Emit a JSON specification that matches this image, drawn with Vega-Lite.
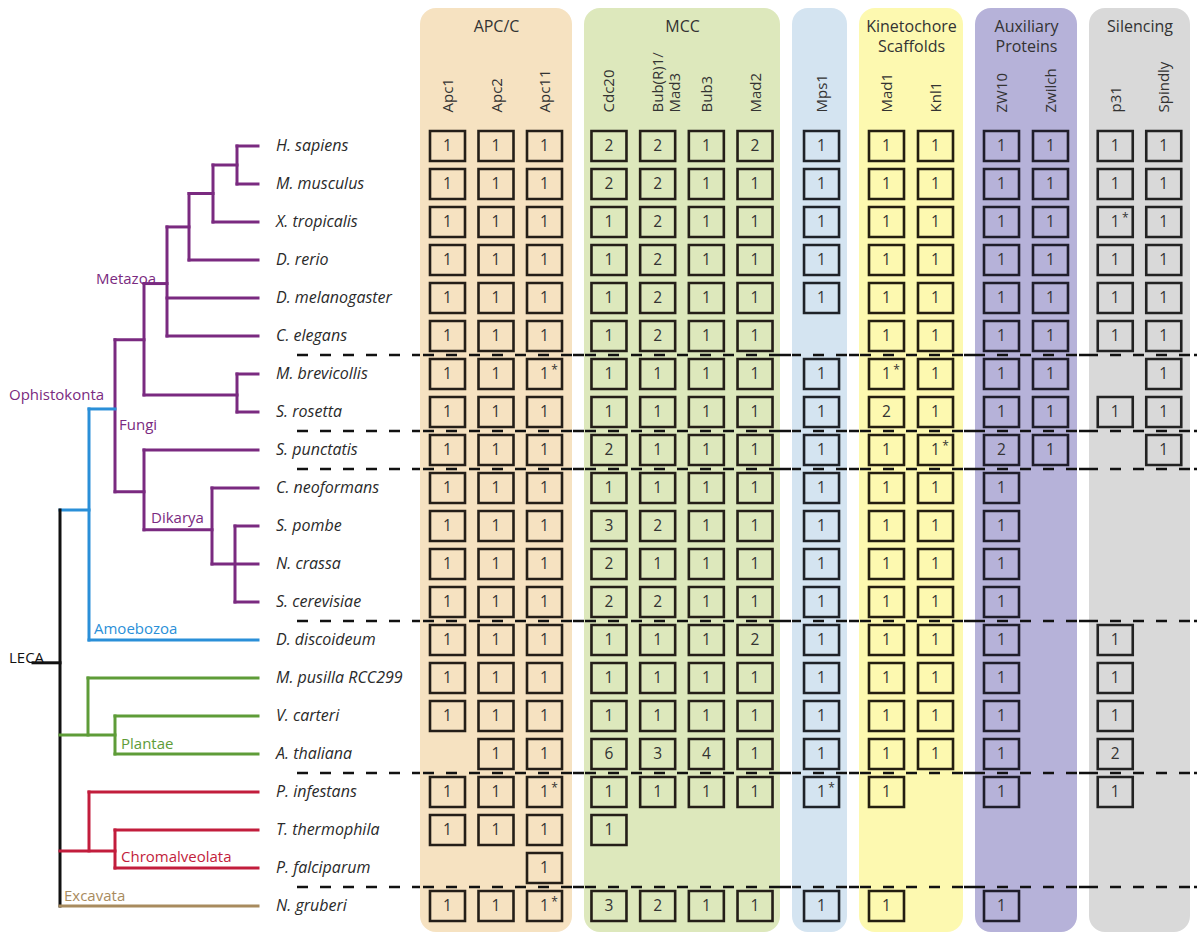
{
  "$schema": "https://vega.github.io/schema/vega-lite/v6.json",
  "padding": {"left": 0, "top": 8, "right": 0, "bottom": 0},
  "background": "white",
  "spacing": 12,
  "bounds": "flush",
  "config": {
    "view": {"stroke": null},
    "font": "Open Sans",
    "axisX": {
      "offset": -104,
      "labelAngle": -90,
      "labelAlign": "left",
      "labelBaseline": "middle",
      "ticks": false,
      "tickSize": 0,
      "domain": false,
      "grid": false,
      "labelPadding": 0,
      "labelFontSize": 15,
      "labelColor": "#333333",
      "labelFont": "Open Sans",
      "labelOverlap": false,
      "labelLineHeight": 17,
      "titleFont": "Open Sans",
      "titleFontSize": 16,
      "titleFontWeight": "normal",
      "titleColor": "#333333",
      "titleBaseline": "top",
      "titleY": -94,
      "titleLineHeight": 20,
      "titleAngle": 0
    }
  },
  "datasets": {
    "species": [
      {"species": "H. sapiens", "row": 0},
      {"species": "M. musculus", "row": 1},
      {"species": "X. tropicalis", "row": 2},
      {"species": "D. rerio", "row": 3},
      {"species": "D. melanogaster", "row": 4},
      {"species": "C. elegans", "row": 5},
      {"species": "M. brevicollis", "row": 6},
      {"species": "S. rosetta", "row": 7},
      {"species": "S. punctatis", "row": 8},
      {"species": "C. neoformans", "row": 9},
      {"species": "S. pombe", "row": 10},
      {"species": "N. crassa", "row": 11},
      {"species": "S. cerevisiae", "row": 12},
      {"species": "D. discoideum", "row": 13},
      {"species": "M. pusilla RCC299", "row": 14},
      {"species": "V. carteri", "row": 15},
      {"species": "A. thaliana", "row": 16},
      {"species": "P. infestans", "row": 17},
      {"species": "T. thermophila", "row": 18},
      {"species": "P. falciparum", "row": 19},
      {"species": "N. gruberi", "row": 20}
    ],
    "seps": [{"row": 5.5}, {"row": 7.5}, {"row": 8.5}, {"row": 12.5}, {"row": 16.5}, {"row": 19.5}],
    "branches": [
      {"clade": "Opisthokonta", "x": 237, "x2": 258, "y": 0, "y2": 0},
      {"clade": "Opisthokonta", "x": 237, "x2": 258, "y": 1, "y2": 1},
      {"clade": "Opisthokonta", "x": 237, "x2": 237, "y": 0, "y2": 1},
      {"clade": "Opisthokonta", "x": 213, "x2": 237, "y": 0.5, "y2": 0.5},
      {"clade": "Opisthokonta", "x": 213, "x2": 258, "y": 2, "y2": 2},
      {"clade": "Opisthokonta", "x": 213, "x2": 213, "y": 0.5, "y2": 2},
      {"clade": "Opisthokonta", "x": 189, "x2": 213, "y": 1.25, "y2": 1.25},
      {"clade": "Opisthokonta", "x": 189, "x2": 258, "y": 3, "y2": 3},
      {"clade": "Opisthokonta", "x": 189, "x2": 189, "y": 1.25, "y2": 3},
      {"clade": "Opisthokonta", "x": 167, "x2": 189, "y": 2.13, "y2": 2.13},
      {"clade": "Opisthokonta", "x": 167, "x2": 258, "y": 4, "y2": 4},
      {"clade": "Opisthokonta", "x": 167, "x2": 258, "y": 5, "y2": 5},
      {"clade": "Opisthokonta", "x": 167, "x2": 167, "y": 2.13, "y2": 5},
      {"clade": "Opisthokonta", "x": 144, "x2": 167, "y": 3.62, "y2": 3.62},
      {"clade": "Opisthokonta", "x": 237, "x2": 258, "y": 6, "y2": 6},
      {"clade": "Opisthokonta", "x": 237, "x2": 258, "y": 7, "y2": 7},
      {"clade": "Opisthokonta", "x": 237, "x2": 237, "y": 6, "y2": 7},
      {"clade": "Opisthokonta", "x": 144, "x2": 237, "y": 6.55, "y2": 6.55},
      {"clade": "Opisthokonta", "x": 144, "x2": 144, "y": 3.62, "y2": 6.55},
      {"clade": "Opisthokonta", "x": 115, "x2": 144, "y": 5.1, "y2": 5.1},
      {"clade": "Opisthokonta", "x": 144, "x2": 258, "y": 8, "y2": 8},
      {"clade": "Opisthokonta", "x": 212, "x2": 258, "y": 9, "y2": 9},
      {"clade": "Opisthokonta", "x": 235, "x2": 258, "y": 10, "y2": 10},
      {"clade": "Opisthokonta", "x": 212, "x2": 258, "y": 11, "y2": 11},
      {"clade": "Opisthokonta", "x": 235, "x2": 258, "y": 12, "y2": 12},
      {"clade": "Opisthokonta", "x": 235, "x2": 235, "y": 10, "y2": 12},
      {"clade": "Opisthokonta", "x": 212, "x2": 212, "y": 9, "y2": 11},
      {"clade": "Opisthokonta", "x": 144, "x2": 212, "y": 10.1, "y2": 10.1},
      {"clade": "Opisthokonta", "x": 144, "x2": 144, "y": 8, "y2": 10.1},
      {"clade": "Opisthokonta", "x": 115, "x2": 144, "y": 9.1, "y2": 9.1},
      {"clade": "Opisthokonta", "x": 115, "x2": 115, "y": 5.1, "y2": 9.1},
      {"clade": "Amoebozoa", "x": 89, "x2": 115, "y": 6.92, "y2": 6.92},
      {"clade": "Amoebozoa", "x": 89, "x2": 89, "y": 6.92, "y2": 13},
      {"clade": "Amoebozoa", "x": 89, "x2": 258, "y": 13, "y2": 13},
      {"clade": "Amoebozoa", "x": 60, "x2": 89, "y": 9.58, "y2": 9.58},
      {"clade": "LECA", "x": 60, "x2": 60, "y": 9.58, "y2": 20},
      {"clade": "LECA", "x": 33, "x2": 60, "y": 13.6, "y2": 13.6},
      {"clade": "Plantae", "x": 60, "x2": 115, "y": 15.5, "y2": 15.5},
      {"clade": "Plantae", "x": 88, "x2": 88, "y": 14, "y2": 15.5},
      {"clade": "Plantae", "x": 88, "x2": 258, "y": 14, "y2": 14},
      {"clade": "Plantae", "x": 115, "x2": 115, "y": 15, "y2": 16},
      {"clade": "Plantae", "x": 115, "x2": 258, "y": 15, "y2": 15},
      {"clade": "Plantae", "x": 115, "x2": 258, "y": 16, "y2": 16},
      {"clade": "Chromalveolata", "x": 60, "x2": 115, "y": 18.55, "y2": 18.55},
      {"clade": "Chromalveolata", "x": 89, "x2": 89, "y": 17, "y2": 18.55},
      {"clade": "Chromalveolata", "x": 89, "x2": 258, "y": 17, "y2": 17},
      {"clade": "Chromalveolata", "x": 115, "x2": 115, "y": 18, "y2": 19},
      {"clade": "Chromalveolata", "x": 115, "x2": 258, "y": 18, "y2": 18},
      {"clade": "Chromalveolata", "x": 115, "x2": 258, "y": 19, "y2": 19},
      {"clade": "Excavata", "x": 60, "x2": 258, "y": 20, "y2": 20}
    ],
    "cladeLabels": [
      {"label": "Metazoa", "clade": "Opisthokonta", "x": 96, "row": 3.5},
      {"label": "Ophistokonta", "clade": "Opisthokonta", "x": 9, "row": 6.55},
      {"label": "Fungi", "clade": "Opisthokonta", "x": 119, "row": 7.34},
      {"label": "Dikarya", "clade": "Opisthokonta", "x": 151, "row": 9.79},
      {"label": "Amoebozoa", "clade": "Amoebozoa", "x": 94, "row": 12.71},
      {"label": "LECA", "clade": "LECA", "x": 9, "row": 13.48},
      {"label": "Plantae", "clade": "Plantae", "x": 121, "row": 15.74},
      {"label": "Chromalveolata", "clade": "Chromalveolata", "x": 121, "row": 18.71},
      {"label": "Excavata", "clade": "Excavata", "x": 64, "row": 19.74}
    ],
    "cells": [
      {"species": "H. sapiens", "gene": "Apc1", "count": 1},
      {"species": "H. sapiens", "gene": "Apc2", "count": 1},
      {"species": "H. sapiens", "gene": "Apc11", "count": 1},
      {"species": "H. sapiens", "gene": "Cdc20", "count": 2},
      {"species": "H. sapiens", "gene": "Bub(R)1/Mad3", "count": 2},
      {"species": "H. sapiens", "gene": "Bub3", "count": 1},
      {"species": "H. sapiens", "gene": "Mad2", "count": 2},
      {"species": "H. sapiens", "gene": "Mps1", "count": 1},
      {"species": "H. sapiens", "gene": "Mad1", "count": 1},
      {"species": "H. sapiens", "gene": "Knl1", "count": 1},
      {"species": "H. sapiens", "gene": "ZW10", "count": 1},
      {"species": "H. sapiens", "gene": "Zwilch", "count": 1},
      {"species": "H. sapiens", "gene": "p31", "count": 1},
      {"species": "H. sapiens", "gene": "Spindly", "count": 1},
      {"species": "M. musculus", "gene": "Apc1", "count": 1},
      {"species": "M. musculus", "gene": "Apc2", "count": 1},
      {"species": "M. musculus", "gene": "Apc11", "count": 1},
      {"species": "M. musculus", "gene": "Cdc20", "count": 2},
      {"species": "M. musculus", "gene": "Bub(R)1/Mad3", "count": 2},
      {"species": "M. musculus", "gene": "Bub3", "count": 1},
      {"species": "M. musculus", "gene": "Mad2", "count": 1},
      {"species": "M. musculus", "gene": "Mps1", "count": 1},
      {"species": "M. musculus", "gene": "Mad1", "count": 1},
      {"species": "M. musculus", "gene": "Knl1", "count": 1},
      {"species": "M. musculus", "gene": "ZW10", "count": 1},
      {"species": "M. musculus", "gene": "Zwilch", "count": 1},
      {"species": "M. musculus", "gene": "p31", "count": 1},
      {"species": "M. musculus", "gene": "Spindly", "count": 1},
      {"species": "X. tropicalis", "gene": "Apc1", "count": 1},
      {"species": "X. tropicalis", "gene": "Apc2", "count": 1},
      {"species": "X. tropicalis", "gene": "Apc11", "count": 1},
      {"species": "X. tropicalis", "gene": "Cdc20", "count": 1},
      {"species": "X. tropicalis", "gene": "Bub(R)1/Mad3", "count": 2},
      {"species": "X. tropicalis", "gene": "Bub3", "count": 1},
      {"species": "X. tropicalis", "gene": "Mad2", "count": 1},
      {"species": "X. tropicalis", "gene": "Mps1", "count": 1},
      {"species": "X. tropicalis", "gene": "Mad1", "count": 1},
      {"species": "X. tropicalis", "gene": "Knl1", "count": 1},
      {"species": "X. tropicalis", "gene": "ZW10", "count": 1},
      {"species": "X. tropicalis", "gene": "Zwilch", "count": 1},
      {"species": "X. tropicalis", "gene": "p31", "count": 1, "star": "*"},
      {"species": "X. tropicalis", "gene": "Spindly", "count": 1},
      {"species": "D. rerio", "gene": "Apc1", "count": 1},
      {"species": "D. rerio", "gene": "Apc2", "count": 1},
      {"species": "D. rerio", "gene": "Apc11", "count": 1},
      {"species": "D. rerio", "gene": "Cdc20", "count": 1},
      {"species": "D. rerio", "gene": "Bub(R)1/Mad3", "count": 2},
      {"species": "D. rerio", "gene": "Bub3", "count": 1},
      {"species": "D. rerio", "gene": "Mad2", "count": 1},
      {"species": "D. rerio", "gene": "Mps1", "count": 1},
      {"species": "D. rerio", "gene": "Mad1", "count": 1},
      {"species": "D. rerio", "gene": "Knl1", "count": 1},
      {"species": "D. rerio", "gene": "ZW10", "count": 1},
      {"species": "D. rerio", "gene": "Zwilch", "count": 1},
      {"species": "D. rerio", "gene": "p31", "count": 1},
      {"species": "D. rerio", "gene": "Spindly", "count": 1},
      {"species": "D. melanogaster", "gene": "Apc1", "count": 1},
      {"species": "D. melanogaster", "gene": "Apc2", "count": 1},
      {"species": "D. melanogaster", "gene": "Apc11", "count": 1},
      {"species": "D. melanogaster", "gene": "Cdc20", "count": 1},
      {"species": "D. melanogaster", "gene": "Bub(R)1/Mad3", "count": 2},
      {"species": "D. melanogaster", "gene": "Bub3", "count": 1},
      {"species": "D. melanogaster", "gene": "Mad2", "count": 1},
      {"species": "D. melanogaster", "gene": "Mps1", "count": 1},
      {"species": "D. melanogaster", "gene": "Mad1", "count": 1},
      {"species": "D. melanogaster", "gene": "Knl1", "count": 1},
      {"species": "D. melanogaster", "gene": "ZW10", "count": 1},
      {"species": "D. melanogaster", "gene": "Zwilch", "count": 1},
      {"species": "D. melanogaster", "gene": "p31", "count": 1},
      {"species": "D. melanogaster", "gene": "Spindly", "count": 1},
      {"species": "C. elegans", "gene": "Apc1", "count": 1},
      {"species": "C. elegans", "gene": "Apc2", "count": 1},
      {"species": "C. elegans", "gene": "Apc11", "count": 1},
      {"species": "C. elegans", "gene": "Cdc20", "count": 1},
      {"species": "C. elegans", "gene": "Bub(R)1/Mad3", "count": 2},
      {"species": "C. elegans", "gene": "Bub3", "count": 1},
      {"species": "C. elegans", "gene": "Mad2", "count": 1},
      {"species": "C. elegans", "gene": "Mad1", "count": 1},
      {"species": "C. elegans", "gene": "Knl1", "count": 1},
      {"species": "C. elegans", "gene": "ZW10", "count": 1},
      {"species": "C. elegans", "gene": "Zwilch", "count": 1},
      {"species": "C. elegans", "gene": "p31", "count": 1},
      {"species": "C. elegans", "gene": "Spindly", "count": 1},
      {"species": "M. brevicollis", "gene": "Apc1", "count": 1},
      {"species": "M. brevicollis", "gene": "Apc2", "count": 1},
      {"species": "M. brevicollis", "gene": "Apc11", "count": 1, "star": "*"},
      {"species": "M. brevicollis", "gene": "Cdc20", "count": 1},
      {"species": "M. brevicollis", "gene": "Bub(R)1/Mad3", "count": 1},
      {"species": "M. brevicollis", "gene": "Bub3", "count": 1},
      {"species": "M. brevicollis", "gene": "Mad2", "count": 1},
      {"species": "M. brevicollis", "gene": "Mps1", "count": 1},
      {"species": "M. brevicollis", "gene": "Mad1", "count": 1, "star": "*"},
      {"species": "M. brevicollis", "gene": "Knl1", "count": 1},
      {"species": "M. brevicollis", "gene": "ZW10", "count": 1},
      {"species": "M. brevicollis", "gene": "Zwilch", "count": 1},
      {"species": "M. brevicollis", "gene": "Spindly", "count": 1},
      {"species": "S. rosetta", "gene": "Apc1", "count": 1},
      {"species": "S. rosetta", "gene": "Apc2", "count": 1},
      {"species": "S. rosetta", "gene": "Apc11", "count": 1},
      {"species": "S. rosetta", "gene": "Cdc20", "count": 1},
      {"species": "S. rosetta", "gene": "Bub(R)1/Mad3", "count": 1},
      {"species": "S. rosetta", "gene": "Bub3", "count": 1},
      {"species": "S. rosetta", "gene": "Mad2", "count": 1},
      {"species": "S. rosetta", "gene": "Mps1", "count": 1},
      {"species": "S. rosetta", "gene": "Mad1", "count": 2},
      {"species": "S. rosetta", "gene": "Knl1", "count": 1},
      {"species": "S. rosetta", "gene": "ZW10", "count": 1},
      {"species": "S. rosetta", "gene": "Zwilch", "count": 1},
      {"species": "S. rosetta", "gene": "p31", "count": 1},
      {"species": "S. rosetta", "gene": "Spindly", "count": 1},
      {"species": "S. punctatis", "gene": "Apc1", "count": 1},
      {"species": "S. punctatis", "gene": "Apc2", "count": 1},
      {"species": "S. punctatis", "gene": "Apc11", "count": 1},
      {"species": "S. punctatis", "gene": "Cdc20", "count": 2},
      {"species": "S. punctatis", "gene": "Bub(R)1/Mad3", "count": 1},
      {"species": "S. punctatis", "gene": "Bub3", "count": 1},
      {"species": "S. punctatis", "gene": "Mad2", "count": 1},
      {"species": "S. punctatis", "gene": "Mps1", "count": 1},
      {"species": "S. punctatis", "gene": "Mad1", "count": 1},
      {"species": "S. punctatis", "gene": "Knl1", "count": 1, "star": "*"},
      {"species": "S. punctatis", "gene": "ZW10", "count": 2},
      {"species": "S. punctatis", "gene": "Zwilch", "count": 1},
      {"species": "S. punctatis", "gene": "Spindly", "count": 1},
      {"species": "C. neoformans", "gene": "Apc1", "count": 1},
      {"species": "C. neoformans", "gene": "Apc2", "count": 1},
      {"species": "C. neoformans", "gene": "Apc11", "count": 1},
      {"species": "C. neoformans", "gene": "Cdc20", "count": 1},
      {"species": "C. neoformans", "gene": "Bub(R)1/Mad3", "count": 1},
      {"species": "C. neoformans", "gene": "Bub3", "count": 1},
      {"species": "C. neoformans", "gene": "Mad2", "count": 1},
      {"species": "C. neoformans", "gene": "Mps1", "count": 1},
      {"species": "C. neoformans", "gene": "Mad1", "count": 1},
      {"species": "C. neoformans", "gene": "Knl1", "count": 1},
      {"species": "C. neoformans", "gene": "ZW10", "count": 1},
      {"species": "S. pombe", "gene": "Apc1", "count": 1},
      {"species": "S. pombe", "gene": "Apc2", "count": 1},
      {"species": "S. pombe", "gene": "Apc11", "count": 1},
      {"species": "S. pombe", "gene": "Cdc20", "count": 3},
      {"species": "S. pombe", "gene": "Bub(R)1/Mad3", "count": 2},
      {"species": "S. pombe", "gene": "Bub3", "count": 1},
      {"species": "S. pombe", "gene": "Mad2", "count": 1},
      {"species": "S. pombe", "gene": "Mps1", "count": 1},
      {"species": "S. pombe", "gene": "Mad1", "count": 1},
      {"species": "S. pombe", "gene": "Knl1", "count": 1},
      {"species": "S. pombe", "gene": "ZW10", "count": 1},
      {"species": "N. crassa", "gene": "Apc1", "count": 1},
      {"species": "N. crassa", "gene": "Apc2", "count": 1},
      {"species": "N. crassa", "gene": "Apc11", "count": 1},
      {"species": "N. crassa", "gene": "Cdc20", "count": 2},
      {"species": "N. crassa", "gene": "Bub(R)1/Mad3", "count": 1},
      {"species": "N. crassa", "gene": "Bub3", "count": 1},
      {"species": "N. crassa", "gene": "Mad2", "count": 1},
      {"species": "N. crassa", "gene": "Mps1", "count": 1},
      {"species": "N. crassa", "gene": "Mad1", "count": 1},
      {"species": "N. crassa", "gene": "Knl1", "count": 1},
      {"species": "N. crassa", "gene": "ZW10", "count": 1},
      {"species": "S. cerevisiae", "gene": "Apc1", "count": 1},
      {"species": "S. cerevisiae", "gene": "Apc2", "count": 1},
      {"species": "S. cerevisiae", "gene": "Apc11", "count": 1},
      {"species": "S. cerevisiae", "gene": "Cdc20", "count": 2},
      {"species": "S. cerevisiae", "gene": "Bub(R)1/Mad3", "count": 2},
      {"species": "S. cerevisiae", "gene": "Bub3", "count": 1},
      {"species": "S. cerevisiae", "gene": "Mad2", "count": 1},
      {"species": "S. cerevisiae", "gene": "Mps1", "count": 1},
      {"species": "S. cerevisiae", "gene": "Mad1", "count": 1},
      {"species": "S. cerevisiae", "gene": "Knl1", "count": 1},
      {"species": "S. cerevisiae", "gene": "ZW10", "count": 1},
      {"species": "D. discoideum", "gene": "Apc1", "count": 1},
      {"species": "D. discoideum", "gene": "Apc2", "count": 1},
      {"species": "D. discoideum", "gene": "Apc11", "count": 1},
      {"species": "D. discoideum", "gene": "Cdc20", "count": 1},
      {"species": "D. discoideum", "gene": "Bub(R)1/Mad3", "count": 1},
      {"species": "D. discoideum", "gene": "Bub3", "count": 1},
      {"species": "D. discoideum", "gene": "Mad2", "count": 2},
      {"species": "D. discoideum", "gene": "Mps1", "count": 1},
      {"species": "D. discoideum", "gene": "Mad1", "count": 1},
      {"species": "D. discoideum", "gene": "Knl1", "count": 1},
      {"species": "D. discoideum", "gene": "ZW10", "count": 1},
      {"species": "D. discoideum", "gene": "p31", "count": 1},
      {"species": "M. pusilla RCC299", "gene": "Apc1", "count": 1},
      {"species": "M. pusilla RCC299", "gene": "Apc2", "count": 1},
      {"species": "M. pusilla RCC299", "gene": "Apc11", "count": 1},
      {"species": "M. pusilla RCC299", "gene": "Cdc20", "count": 1},
      {"species": "M. pusilla RCC299", "gene": "Bub(R)1/Mad3", "count": 1},
      {"species": "M. pusilla RCC299", "gene": "Bub3", "count": 1},
      {"species": "M. pusilla RCC299", "gene": "Mad2", "count": 1},
      {"species": "M. pusilla RCC299", "gene": "Mps1", "count": 1},
      {"species": "M. pusilla RCC299", "gene": "Mad1", "count": 1},
      {"species": "M. pusilla RCC299", "gene": "Knl1", "count": 1},
      {"species": "M. pusilla RCC299", "gene": "ZW10", "count": 1},
      {"species": "M. pusilla RCC299", "gene": "p31", "count": 1},
      {"species": "V. carteri", "gene": "Apc1", "count": 1},
      {"species": "V. carteri", "gene": "Apc2", "count": 1},
      {"species": "V. carteri", "gene": "Apc11", "count": 1},
      {"species": "V. carteri", "gene": "Cdc20", "count": 1},
      {"species": "V. carteri", "gene": "Bub(R)1/Mad3", "count": 1},
      {"species": "V. carteri", "gene": "Bub3", "count": 1},
      {"species": "V. carteri", "gene": "Mad2", "count": 1},
      {"species": "V. carteri", "gene": "Mps1", "count": 1},
      {"species": "V. carteri", "gene": "Mad1", "count": 1},
      {"species": "V. carteri", "gene": "Knl1", "count": 1},
      {"species": "V. carteri", "gene": "ZW10", "count": 1},
      {"species": "V. carteri", "gene": "p31", "count": 1},
      {"species": "A. thaliana", "gene": "Apc2", "count": 1},
      {"species": "A. thaliana", "gene": "Apc11", "count": 1},
      {"species": "A. thaliana", "gene": "Cdc20", "count": 6},
      {"species": "A. thaliana", "gene": "Bub(R)1/Mad3", "count": 3},
      {"species": "A. thaliana", "gene": "Bub3", "count": 4},
      {"species": "A. thaliana", "gene": "Mad2", "count": 1},
      {"species": "A. thaliana", "gene": "Mps1", "count": 1},
      {"species": "A. thaliana", "gene": "Mad1", "count": 1},
      {"species": "A. thaliana", "gene": "Knl1", "count": 1},
      {"species": "A. thaliana", "gene": "ZW10", "count": 1},
      {"species": "A. thaliana", "gene": "p31", "count": 2},
      {"species": "P. infestans", "gene": "Apc1", "count": 1},
      {"species": "P. infestans", "gene": "Apc2", "count": 1},
      {"species": "P. infestans", "gene": "Apc11", "count": 1, "star": "*"},
      {"species": "P. infestans", "gene": "Cdc20", "count": 1},
      {"species": "P. infestans", "gene": "Bub(R)1/Mad3", "count": 1},
      {"species": "P. infestans", "gene": "Bub3", "count": 1},
      {"species": "P. infestans", "gene": "Mad2", "count": 1},
      {"species": "P. infestans", "gene": "Mps1", "count": 1, "star": "*"},
      {"species": "P. infestans", "gene": "Mad1", "count": 1},
      {"species": "P. infestans", "gene": "ZW10", "count": 1},
      {"species": "P. infestans", "gene": "p31", "count": 1},
      {"species": "T. thermophila", "gene": "Apc1", "count": 1},
      {"species": "T. thermophila", "gene": "Apc2", "count": 1},
      {"species": "T. thermophila", "gene": "Apc11", "count": 1},
      {"species": "T. thermophila", "gene": "Cdc20", "count": 1},
      {"species": "P. falciparum", "gene": "Apc11", "count": 1},
      {"species": "N. gruberi", "gene": "Apc1", "count": 1},
      {"species": "N. gruberi", "gene": "Apc2", "count": 1},
      {"species": "N. gruberi", "gene": "Apc11", "count": 1, "star": "*"},
      {"species": "N. gruberi", "gene": "Cdc20", "count": 3},
      {"species": "N. gruberi", "gene": "Bub(R)1/Mad3", "count": 2},
      {"species": "N. gruberi", "gene": "Bub3", "count": 1},
      {"species": "N. gruberi", "gene": "Mad2", "count": 1},
      {"species": "N. gruberi", "gene": "Mps1", "count": 1},
      {"species": "N. gruberi", "gene": "Mad1", "count": 1},
      {"species": "N. gruberi", "gene": "ZW10", "count": 1}
    ]
  },
  "hconcat": [
    {
      "width": 408,
      "height": 924,
      "layer": [
        {
          "data": {"name": "seps"},
          "mark": {"type": "rule", "strokeDash": [11, 12], "strokeWidth": 2.6, "color": "#111111"},
          "encoding": {
            "x": {"datum": 297, "type": "quantitative", "scale": {"domain": [0, 408], "nice": false, "zero": false}, "axis": null},
            "x2": {"datum": 1197},
            "y": {"field": "row", "type": "quantitative", "scale": {"domain": [-3.6316, 20.6842], "reverse": true, "nice": false, "zero": false}, "axis": null}
          }
        },
        {
          "data": {"name": "branches"},
          "mark": {"type": "rule", "strokeWidth": 3, "strokeCap": "square"},
          "encoding": {
            "x": {"field": "x", "type": "quantitative", "scale": {"domain": [0, 408], "nice": false, "zero": false}, "axis": null},
            "x2": {"field": "x2"},
            "y": {"field": "y", "type": "quantitative", "scale": {"domain": [-3.6316, 20.6842], "reverse": true, "nice": false, "zero": false}, "axis": null},
            "y2": {"field": "y2"},
            "color": {"field": "clade", "type": "nominal", "legend": null,
              "scale": {"domain": ["Opisthokonta", "Amoebozoa", "LECA", "Plantae", "Chromalveolata", "Excavata"],
                        "range": ["#7a2a80", "#2a8fd8", "#111111", "#5e9c38", "#c21d3c", "#a88b5e"]}}
          }
        },
        {
          "data": {"name": "cladeLabels"},
          "mark": {"type": "text", "align": "left", "baseline": "middle", "fontSize": 15, "font": "Open Sans"},
          "encoding": {
            "x": {"field": "x", "type": "quantitative"},
            "y": {"field": "row", "type": "quantitative"},
            "text": {"field": "label"},
            "color": {"field": "clade", "type": "nominal", "legend": null}
          }
        },
        {
          "data": {"name": "species"},
          "mark": {"type": "text", "align": "left", "baseline": "middle", "fontSize": 16, "fontStyle": "italic", "font": "Open Sans", "color": "#2a2a2a"},
          "encoding": {
            "x": {"datum": 276, "type": "quantitative"},
            "y": {"field": "row", "type": "quantitative"},
            "text": {"field": "species"}
          }
        }
      ]
    },
    {
      "width": 152,
      "height": 924,
      "view": {"fill": "#f6e2c1", "stroke": null, "cornerRadius": 16},
      "layer": [
        {
          "data": {"name": "seps"},
          "mark": {"type": "rule", "strokeDash": [11, 12], "strokeWidth": 2.6, "color": "#111111"},
          "encoding": {"y": {"field": "row", "type": "quantitative", "scale": {"domain": [-3.6316, 20.6842], "reverse": true, "nice": false, "zero": false}, "axis": null}}
        },
        {
          "data": {"name": "cells"},
          "transform": [
            {"filter": {"field": "gene", "oneOf": ["Apc1", "Apc2", "Apc11"]}},
            {"lookup": "species", "from": {"data": {"name": "species"}, "key": "species", "fields": ["row"]}}
          ],
          "encoding": {
            "x": {"field": "gene", "type": "nominal", "scale": {"type": "point", "domain": ["Apc1", "Apc2", "Apc11"], "padding": 0.567}, "axis": {"orient": "top", "title": "APC/C"}},
            "y": {"field": "row", "type": "quantitative"}
          },
          "layer": [
            {"mark": {"type": "point", "shape": "M-1,-0.857H1V0.857H-1Z", "size": 1225, "filled": false, "stroke": "#241e18", "strokeWidth": 2.6, "opacity": 1}},
            {"mark": {"type": "text", "fontSize": 15.5, "color": "#333333", "baseline": "middle", "font": "Open Sans"}, "encoding": {"text": {"field": "count"}}},
            {"transform": [{"filter": "isValid(datum.star)"}], "mark": {"type": "text", "fontSize": 12, "color": "#333333", "baseline": "middle", "dx": 10, "dy": -4, "font": "Open Sans"}, "encoding": {"text": {"field": "star"}}}
          ]
        }
      ]
    },
    {
      "width": 196,
      "height": 924,
      "view": {"fill": "#dde8bc", "stroke": null, "cornerRadius": 16},
      "layer": [
        {
          "data": {"name": "seps"},
          "mark": {"type": "rule", "strokeDash": [11, 12], "strokeWidth": 2.6, "color": "#111111"},
          "encoding": {"y": {"field": "row", "type": "quantitative", "scale": {"domain": [-3.6316, 20.6842], "reverse": true, "nice": false, "zero": false}, "axis": null}}
        },
        {
          "data": {"name": "cells"},
          "transform": [
            {"filter": {"field": "gene", "oneOf": ["Cdc20", "Bub(R)1/Mad3", "Bub3", "Mad2"]}},
            {"lookup": "species", "from": {"data": {"name": "species"}, "key": "species", "fields": ["row"]}}
          ],
          "encoding": {
            "x": {"field": "gene", "type": "nominal", "scale": {"type": "point", "domain": ["Cdc20", "Bub(R)1/Mad3", "Bub3", "Mad2"], "padding": 0.513},
                  "axis": {"orient": "top", "title": "MCC", "labelExpr": "datum.label == 'Bub(R)1/Mad3' ? ['Bub(R)1/', 'Mad3'] : datum.label"}},
            "y": {"field": "row", "type": "quantitative"}
          },
          "layer": [
            {"mark": {"type": "point", "shape": "M-1,-0.857H1V0.857H-1Z", "size": 1225, "filled": false, "stroke": "#241e18", "strokeWidth": 2.6, "opacity": 1}},
            {"mark": {"type": "text", "fontSize": 15.5, "color": "#333333", "baseline": "middle", "font": "Open Sans"}, "encoding": {"text": {"field": "count"}}},
            {"transform": [{"filter": "isValid(datum.star)"}], "mark": {"type": "text", "fontSize": 12, "color": "#333333", "baseline": "middle", "dx": 10, "dy": -4, "font": "Open Sans"}, "encoding": {"text": {"field": "star"}}}
          ]
        }
      ]
    },
    {
      "width": 55,
      "height": 924,
      "view": {"fill": "#d4e4f1", "stroke": null, "cornerRadius": 16},
      "layer": [
        {
          "data": {"name": "seps"},
          "mark": {"type": "rule", "strokeDash": [11, 12], "strokeWidth": 2.6, "color": "#111111"},
          "encoding": {"y": {"field": "row", "type": "quantitative", "scale": {"domain": [-3.6316, 20.6842], "reverse": true, "nice": false, "zero": false}, "axis": null}}
        },
        {
          "data": {"name": "cells"},
          "transform": [
            {"filter": {"field": "gene", "oneOf": ["Mps1"]}},
            {"lookup": "species", "from": {"data": {"name": "species"}, "key": "species", "fields": ["row"]}}
          ],
          "encoding": {
            "x": {"field": "gene", "type": "nominal", "scale": {"type": "point", "domain": ["Mps1"], "padding": 0.5, "align": 0.537}, "axis": {"orient": "top", "title": " "}},
            "y": {"field": "row", "type": "quantitative"}
          },
          "layer": [
            {"mark": {"type": "point", "shape": "M-1,-0.857H1V0.857H-1Z", "size": 1225, "filled": false, "stroke": "#1e2228", "strokeWidth": 2.6, "opacity": 1}},
            {"mark": {"type": "text", "fontSize": 15.5, "color": "#333333", "baseline": "middle", "font": "Open Sans"}, "encoding": {"text": {"field": "count"}}},
            {"transform": [{"filter": "isValid(datum.star)"}], "mark": {"type": "text", "fontSize": 12, "color": "#333333", "baseline": "middle", "dx": 10, "dy": -4, "font": "Open Sans"}, "encoding": {"text": {"field": "star"}}}
          ]
        }
      ]
    },
    {
      "width": 104,
      "height": 924,
      "view": {"fill": "#fdf9b0", "stroke": null, "cornerRadius": 16},
      "layer": [
        {
          "data": {"name": "seps"},
          "mark": {"type": "rule", "strokeDash": [11, 12], "strokeWidth": 2.6, "color": "#111111"},
          "encoding": {"y": {"field": "row", "type": "quantitative", "scale": {"domain": [-3.6316, 20.6842], "reverse": true, "nice": false, "zero": false}, "axis": null}}
        },
        {
          "data": {"name": "cells"},
          "transform": [
            {"filter": {"field": "gene", "oneOf": ["Mad1", "Knl1"]}},
            {"lookup": "species", "from": {"data": {"name": "species"}, "key": "species", "fields": ["row"]}}
          ],
          "encoding": {
            "x": {"field": "gene", "type": "nominal", "scale": {"type": "point", "domain": ["Mad1", "Knl1"], "padding": 0.561}, "axis": {"orient": "top", "title": ["Kinetochore", "Scaffolds"]}},
            "y": {"field": "row", "type": "quantitative"}
          },
          "layer": [
            {"mark": {"type": "point", "shape": "M-1,-0.857H1V0.857H-1Z", "size": 1225, "filled": false, "stroke": "#241e10", "strokeWidth": 2.6, "opacity": 1}},
            {"mark": {"type": "text", "fontSize": 15.5, "color": "#333333", "baseline": "middle", "font": "Open Sans"}, "encoding": {"text": {"field": "count"}}},
            {"transform": [{"filter": "isValid(datum.star)"}], "mark": {"type": "text", "fontSize": 12, "color": "#333333", "baseline": "middle", "dx": 10, "dy": -4, "font": "Open Sans"}, "encoding": {"text": {"field": "star"}}}
          ]
        }
      ]
    },
    {
      "width": 102,
      "height": 924,
      "view": {"fill": "#b6b2d9", "stroke": null, "cornerRadius": 16},
      "layer": [
        {
          "data": {"name": "seps"},
          "mark": {"type": "rule", "strokeDash": [11, 12], "strokeWidth": 2.6, "color": "#111111"},
          "encoding": {"y": {"field": "row", "type": "quantitative", "scale": {"domain": [-3.6316, 20.6842], "reverse": true, "nice": false, "zero": false}, "axis": null}}
        },
        {
          "data": {"name": "cells"},
          "transform": [
            {"filter": {"field": "gene", "oneOf": ["ZW10", "Zwilch"]}},
            {"lookup": "species", "from": {"data": {"name": "species"}, "key": "species", "fields": ["row"]}}
          ],
          "encoding": {
            "x": {"field": "gene", "type": "nominal", "scale": {"type": "point", "domain": ["ZW10", "Zwilch"], "padding": 0.541}, "axis": {"orient": "top", "title": ["Auxiliary", "Proteins"]}},
            "y": {"field": "row", "type": "quantitative"}
          },
          "layer": [
            {"mark": {"type": "point", "shape": "M-1,-0.857H1V0.857H-1Z", "size": 1225, "filled": false, "stroke": "#1f1d2a", "strokeWidth": 2.6, "opacity": 1}},
            {"mark": {"type": "text", "fontSize": 15.5, "color": "#333333", "baseline": "middle", "font": "Open Sans"}, "encoding": {"text": {"field": "count"}}},
            {"transform": [{"filter": "isValid(datum.star)"}], "mark": {"type": "text", "fontSize": 12, "color": "#333333", "baseline": "middle", "dx": 10, "dy": -4, "font": "Open Sans"}, "encoding": {"text": {"field": "star"}}}
          ]
        }
      ]
    },
    {
      "width": 101,
      "height": 924,
      "view": {"fill": "#d9d9d9", "stroke": null, "cornerRadius": 16},
      "layer": [
        {
          "data": {"name": "seps"},
          "mark": {"type": "rule", "strokeDash": [11, 12], "strokeWidth": 2.6, "color": "#111111"},
          "encoding": {"y": {"field": "row", "type": "quantitative", "scale": {"domain": [-3.6316, 20.6842], "reverse": true, "nice": false, "zero": false}, "axis": null}}
        },
        {
          "data": {"name": "cells"},
          "transform": [
            {"filter": {"field": "gene", "oneOf": ["p31", "Spindly"]}},
            {"lookup": "species", "from": {"data": {"name": "species"}, "key": "species", "fields": ["row"]}}
          ],
          "encoding": {
            "x": {"field": "gene", "type": "nominal", "scale": {"type": "point", "domain": ["p31", "Spindly"], "padding": 0.541}, "axis": {"orient": "top", "title": "Silencing"}},
            "y": {"field": "row", "type": "quantitative"}
          },
          "layer": [
            {"mark": {"type": "point", "shape": "M-1,-0.857H1V0.857H-1Z", "size": 1225, "filled": false, "stroke": "#222222", "strokeWidth": 2.6, "opacity": 1}},
            {"mark": {"type": "text", "fontSize": 15.5, "color": "#333333", "baseline": "middle", "font": "Open Sans"}, "encoding": {"text": {"field": "count"}}},
            {"transform": [{"filter": "isValid(datum.star)"}], "mark": {"type": "text", "fontSize": 12, "color": "#333333", "baseline": "middle", "dx": 10, "dy": -4, "font": "Open Sans"}, "encoding": {"text": {"field": "star"}}}
          ]
        }
      ]
    }
  ]
}
